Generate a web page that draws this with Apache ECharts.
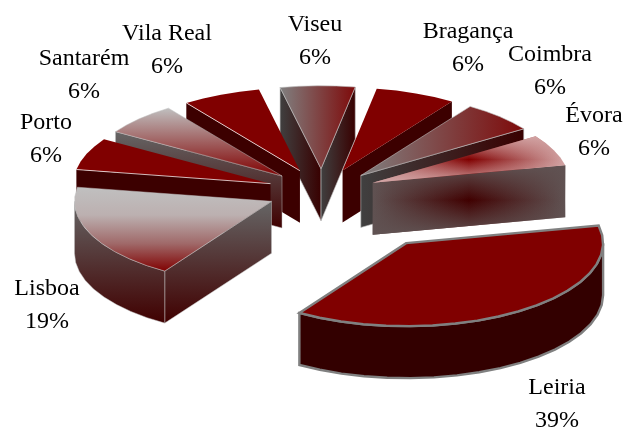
<!DOCTYPE html>
<html><head><meta charset="utf-8">
<style>html,body{margin:0;padding:0;background:#fff}#c{width:629px;height:428px}</style>
<script src="https://cdn.jsdelivr.net/npm/echarts@6/dist/echarts.min.js"></script>
</head><body><div id="c"></div>
<script>
// ---- data ----
const categories = ['Viseu','Bragança','Coimbra','Évora','Leiria','Lisboa','Porto','Santarém','Vila Real'];
const shares     = [6,6,6,6,39,19,6,6,6];

// ---- layout / projection ----
const CX=322, CY=192, RX=197, RY=83, DEPTH=52, START=-11, RIM_STEP=7;
const explodeOf = {Leiria:0.75};
const EXPLODE = 0.28;
// the 3D perspective of the original shifts the angles slightly: pie angle -> screen angle
const perspectiveKnots = [[-11,-12],[10.6,10],[32,33.5],[54,56],[75.6,78],[216,213],[284.4,280],[306,302.5],[327.6,325],[349,348]];
const labelAt = {Viseu:[315,41],'Bragança':[468,48],Coimbra:[550,71],'Évora':[594,132],Leiria:[557,404],Lisboa:[47,305],Porto:[46,139],'Santarém':[84,75],'Vila Real':[167,50]};

function warp(a){
  const k=perspectiveKnots;
  for(let i=1;i<k.length;i++) if(a<=k[i][0]+1e-6){
    const t=(a-k[i-1][0])/(k[i][0]-k[i-1][0]);
    return k[i-1][1]+t*(k[i][1]-k[i-1][1]);
  }
  return k[k.length-1][1];
}
const lin=(x2,y2,stops)=>({type:'linear',x:0,y:0,x2,y2,global:false,colorStops:stops.map((c,i)=>({offset:stops.length>1?i/(stops.length-1):0,color:c}))});
const H=(...s)=>lin(1,0,s), V=(...s)=>lin(0,1,s);
const solid={top:'#800000',wall:'#3c0000',stroke:null};
const grayRed={top:H('#808080','#7e0a0a'),wall:H('#404040','#380000'),stroke:'rgba(190,190,190,.85)'};
const silver={top:V('#c0c0c0','#800000'),wall:V('#666666','#400000'),stroke:'rgba(190,190,190,.7)'};
const centre={top:H('#d2a4a4','#800000','#d2a4a4'),wall:H('#605252','#400000','#605252'),
  topOver:V('#d2a4a4','rgba(210,164,164,0)','#d2a4a4'),wallOver:V('#605252','rgba(96,82,82,0)','#605252'),stroke:null};
const looks={Viseu:grayRed,'Bragança':solid,Coimbra:grayRed,'Évora':centre,
  Leiria:{top:'#800000',wall:'#330000',stroke:'#808080',sw:2.4},
  Lisboa:{top:V('#c0c0c0','#bcb0b0','#a06a6a','#800000'),wall:V('#666666','#400000'),stroke:'rgba(190,190,190,.7)'},
  Porto:{...solid,edge:'rgba(255,255,255,.9)'},'Santarém':silver,'Vila Real':{...solid,edge:'rgba(255,255,255,.9)'}};

// ---- geometry from the values ----
const total=shares.reduce((a,b)=>a+b,0);
let acc=START;
const slices=categories.map((name,i)=>{
  const a0=acc, a1=acc+shares[i]/total*360; acc=a1;
  const s=warp(a0), e=warp(a1), mid=(s+e)/2*Math.PI/180;
  const ex=explodeOf[name]??EXPLODE;
  return {name,share:shares[i],s,e,ax:CX+ex*RX*Math.sin(mid),ay:CY-ex*RY*Math.cos(mid)};
});
const ordered=slices.slice().sort((p,q)=>p.ay-q.ay);

function renderSlice(params){
  const d=ordered[params.dataIndex], L=looks[d.name];
  const pt=(deg)=>{const r=deg*Math.PI/180;return [d.ax+RX*Math.sin(r),d.ay-RY*Math.cos(r)];};
  const arc=(a,b)=>{const o=[];const n=Math.max(2,Math.ceil((b-a)/RIM_STEP));for(let i=0;i<=n;i++)o.push(pt(a+(b-a)*i/n));return o;};
  const down=p=>[p[0],p[1]+DEPTH];
  const apex=[d.ax,d.ay], kids=[];
  const sw=L.sw||0.7;
  const add=(points,fill,stroke)=>kids.push({type:'polygon',shape:{points},style:{fill,stroke:stroke||null,lineWidth:stroke?sw:0}});
  const wall=(a)=>{const p=pt(a);add([apex,p,down(p),down(apex)],L.wall,L.stroke);if(L.wallOver)add([apex,p,down(p),down(apex)],L.wallOver);};
  const norm=x=>((x%360)+360)%360;
  if(norm(d.s)>180) wall(d.s);
  if(norm(d.e)<180) wall(d.e);
  const r0=Math.max(d.s,90), r1=Math.min(d.e,270);
  if(r1>r0){const t=arc(r0,r1);add(t.concat(t.map(down).reverse()),L.wall,L.stroke);}
  const face=[apex].concat(arc(d.s,d.e));
  add(face,L.top,L.stroke);
  if(L.topOver) add(face,L.topOver);
  if(L.edge) kids.push({type:'polyline',shape:{points:[apex,pt(d.s)]},style:{fill:null,stroke:L.edge,lineWidth:0.8}});
  return {type:'group',children:kids};
}
function renderLabel(params){
  const d=slices[params.dataIndex], p=labelAt[d.name];
  return {type:'text',style:{text:d.name+'\n'+d.share+'%',x:p[0],y:p[1],align:'center',verticalAlign:'middle',
    fill:'#000',font:'24px "Liberation Serif"',lineHeight:33}};
}
const chart=echarts.init(document.getElementById('c'),null,{renderer:'canvas'});
chart.setOption({animation:false,backgroundColor:'#fff',series:[
  {type:'custom',coordinateSystem:'none',renderItem:renderSlice,data:ordered.map(d=>d.share),silent:true},
  {type:'custom',coordinateSystem:'none',renderItem:renderLabel,data:slices.map(d=>d.share),silent:true,z:5}
]});
</script></body></html>
